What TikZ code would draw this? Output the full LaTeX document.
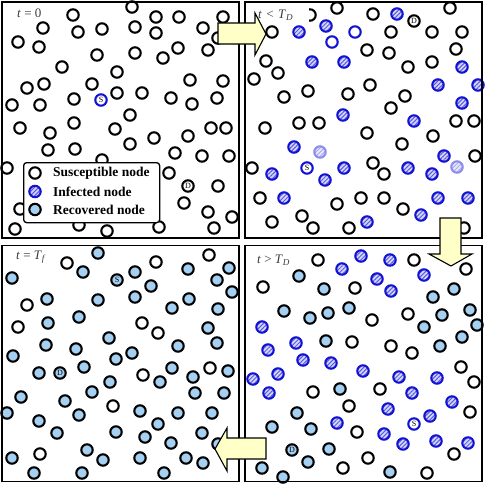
\documentclass[tikz,border=0pt]{standalone}
\usepackage{fontspec}
\setmainfont{Liberation Serif}
\usetikzlibrary{patterns.meta}

\definecolor{infblue}{RGB}{18,18,210}
\definecolor{hatchbg}{RGB}{214,214,250}
\definecolor{hatchline}{RGB}{90,90,225}
\definecolor{fadeblue}{RGB}{140,140,235}
\definecolor{fadebg}{RGB}{232,232,252}
\definecolor{fadeline}{RGB}{170,170,240}
\definecolor{recblue}{RGB}{166,208,242}
\definecolor{arrowyellow}{RGB}{255,255,200}
\definecolor{labelgray}{RGB}{60,60,60}

\tikzset{
  nd/.style={circle,inner sep=0pt,minimum size=11.4pt,line width=2.1pt,font=\fontsize{8}{8}\selectfont},
  sus/.style={nd,draw=black,fill=white},
  inf/.style={nd,draw=infblue,preaction={fill=hatchbg},pattern={Lines[angle=45,distance=3pt,line width=1pt]},pattern color=hatchline},
  infring/.style={nd,draw=infblue,fill=white},
  inffaded/.style={nd,draw=fadeblue,preaction={fill=fadebg},pattern={Lines[angle=45,distance=3pt,line width=1pt]},pattern color=fadeline},
  rec/.style={nd,draw=black,fill=recblue},
  tlabel/.style={anchor=west,fill=white,inner sep=3pt,text=labelgray,font=\fontsize{13}{13}\selectfont},
  panel/.style={draw,line width=1.6pt,minimum width=237pt,minimum height=236pt,inner sep=0pt},
  blockarrow/.style={draw,line width=1.1pt,fill=arrowyellow,line join=miter}
}

\begin{document}
\begin{tikzpicture}[x=1pt,y=-1pt]
  \useasboundingbox (0,0) rectangle (485,485);

  % t = 0
  \foreach \x/\y [count=\i] in {132/7,73/15,156/17,179/17,223/17,43/28,78/32,102/29,135/27,156/33,203/28,218/38,18/42,39/47,97/55,135/53,163/58,178/48,208/50,62/67,117/72,27/88,44/84,92/84,190/80,223/81,12/105,40/105,74/99,117/93,142/93,171/98,192/104,217/98,130/115,74/123,20/128,50/133,115/129,154/138,188/136,211/128,226/128,48/150,75/149,130/144,175/153,202/156,229/156,7/168,102/160,169/173,218/186,184/203,208/212,232/217,15/229,20/209,79/225,107/231,159/227,214/228}
    \node[sus] (a-s\i) at (\x,\y) {};
  \node[infring] (a-src) at (101,100) {S};
  \node[sus] (a-dst) at (188,186) {D};

  % t < T_D
  \foreach \x/\y [count=\i] in {337/8,310/15,373/14,450/8,272/32,391/32,432/32,462/32,367/50,389/53,456/49,266/61,278/73,254/79,408/67,432/62,308/91,284/97,348/94,370/85,405/96,391/108,456/121,474/121,265/128,299/123,319/123,367/133,433/136,402/144,475/156,252/168,373/163,384/174,260/198,337/204,361/198,384/198,403/209,272/222,302/216,313/228,349/228,464/228}
    \node[sus] (b-s\i) at (\x,\y) {};
  \foreach \x/\y [count=\i] in {397/14,299/32,326/26,312/62,344/62,462/67,438/85,478/85,462/103,343/115,414/121,294/147,444/156,272/174,325/180,344/168,408/168,432/174,284/198,421/215,438/198,468/198,367/222}
    \node[inf] (b-i\i) at (\x,\y) {};
  \node[infring] (b-r1) at (332,42) {};
  \node[infring] (b-r2) at (355,32) {};
  \node[inffaded] (b-f1) at (320,152) {};
  \node[inffaded] (b-f2) at (457,167) {};
  \node[infring] (b-src) at (307,168) {S};
  \node[sus] (b-dst) at (414,21) {D};

  % t = T_f
  \foreach \x/\y [count=\i] in {98/253,83/272,12/278,135/272,151/286,188/269,229/268,217/280,232/292,47/299,98/300,135/297,172/308,189/299,218/309,48/323,79/317,208/328,217/343,109/338,46/345,178/346,13/356,76/349,132/353,116/359,39/373,84/367,160/382,172/368,193/377,228/371,110/382,92/392,21/397,65/401,195/393,224/393,7/413,39/421,79/415,140/411,178/413,212/413,57/433,116/432,158/424,145/437,171/443,202/433,218/444,12/458,87/450,103/460,140/458,186/458,203/463,34/473,82/473,164/473}
    \node[rec] (c-r\i) at (\x,\y) {};
  \foreach \x/\y [count=\i] in {67/263,156/262,209/255,27/305,18/327,142/323,158/333,143/375,210/368,113/406,40/454}
    \node[sus] (c-s\i) at (\x,\y) {};
  \node[rec] (c-src) at (117,280) {S};
  \node[rec] (c-dst) at (60,373) {D};

  % t > T_D
  \foreach \x/\y [count=\i] in {318/260,414/260,466/269,263/287,355/288,372/320,408/314,352/342,391/346,412/353,461/367,474/382,313/392,380/389,349/406,470/412,357/432,368/458,454/454,343/468,427/473}
    \node[sus] (d-s\i) at (\x,\y) {};
  \foreach \x/\y [count=\i] in {342/269,361/256,390/260,424/275,377/279,391/291,262/327,296/343,268/350,303/360,331/363,363/371,253/379,278/374,399/377,437/378,269/393,412/393,452/402,388/409,430/416,337/423,384/434,403/444,436/441,468/443}
    \node[inf] (d-i\i) at (\x,\y) {};
  \foreach \x/\y [count=\i] in {299/276,324/289,433/297,454/289,284/311,310/318,328/313,349/308,442/315,470/310,477/325,424/327,462/337,326/341,440/346,340/389,297/413,272/427,311/429,329/449,308/462,262/468,283/477,390/472}
    \node[rec] (d-r\i) at (\x,\y) {};
  \node[infring] (d-src) at (414,424) {S};
  \node[rec] (d-dst) at (292,450) {D};

  % legend
  \node[draw,fill=white,line width=1.3pt,rounded corners=3pt,minimum width=136pt,minimum height=60pt,anchor=north west] (legend) at (23,162) {};
  \node[sus] (leg-s) at (35,173) {};
  \node[inf] (leg-i) at (35,191.5) {};
  \node[rec] (leg-r) at (35,209.5) {};
  \node[anchor=west,inner sep=2pt,font=\fontsize{13.5}{14}\bfseries] (leg-st) at (51,173) {Susceptible node};
  \node[anchor=west,inner sep=2pt,font=\fontsize{13.5}{14}\bfseries] (leg-it) at (51,191.5) {Infected node};
  \node[anchor=west,inner sep=2pt,font=\fontsize{13.5}{14}\bfseries] (leg-rt) at (51,209.5) {Recovered node};

  % time labels
  \node[tlabel] (lab-a) at (14,13) {\textit{t} = 0};
  \node[tlabel,text width=48pt] (lab-b) at (255,15) {\textit{t} < \textit{T}\textsubscript{\textit{D}}};
  \node[tlabel] (lab-c) at (13,257) {\textit{t} = \textit{T}\textsubscript{\textit{f}}};
  \node[tlabel] (lab-d) at (254,260) {\textit{t} > \textit{T}\textsubscript{\textit{D}}};

  % panels
  \node[panel] (panel-a) at (120.5,120) {};
  \node[panel] (panel-b) at (363.5,120) {};
  \node[panel] (panel-c) at (120.5,363.5) {};
  \node[panel] (panel-d) at (363.5,363.5) {};

  % arrows
  \draw[blockarrow] (218,23) -- (255,23) -- (255,13) -- (266,34) -- (255,55) -- (255,44) -- (218,44) -- cycle;
  \draw[blockarrow] (440,218) -- (461,218) -- (461,254) -- (472,254) -- (451,266) -- (429,254) -- (440,254) -- cycle;
  \draw[blockarrow] (266,438) -- (227,438) -- (227,428) -- (215,449) -- (227,471) -- (227,459) -- (266,459) -- cycle;
\end{tikzpicture}
\end{document}
